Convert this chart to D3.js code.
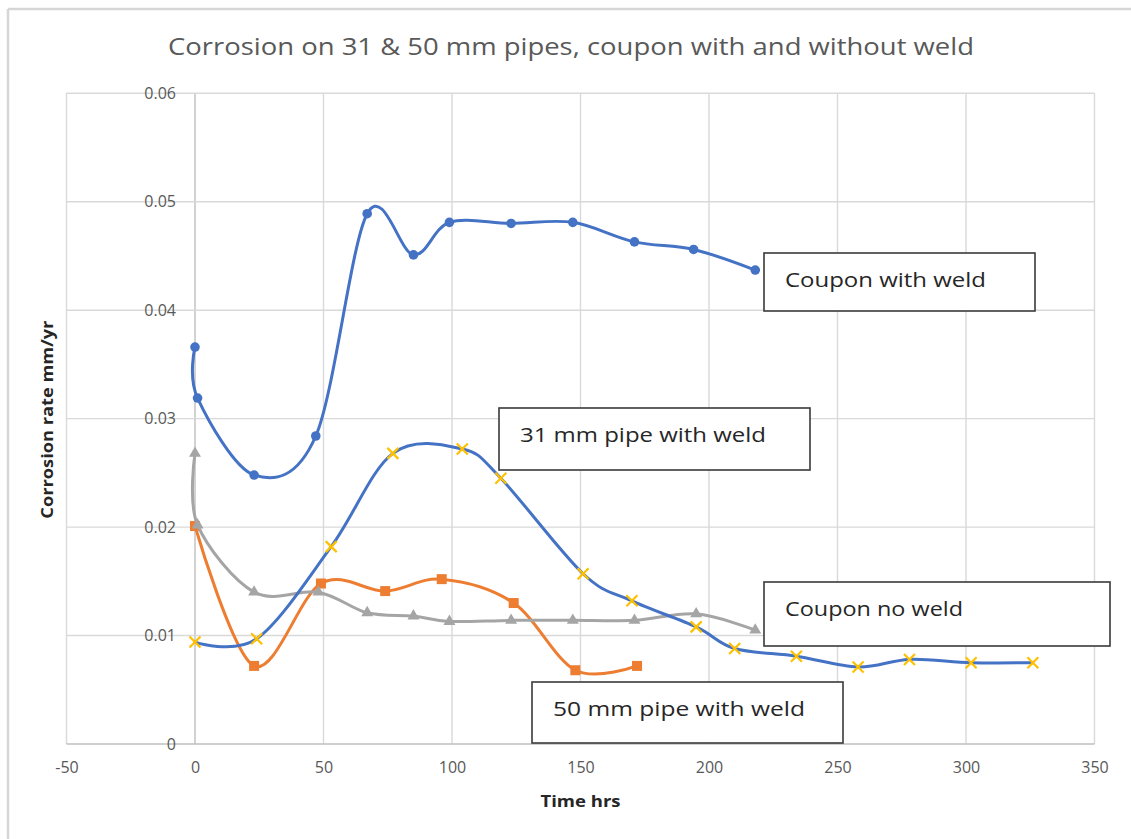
<!DOCTYPE html>
<html>
<head>
<meta charset="utf-8">
<script src="https://cdn.jsdelivr.net/npm/d3@7"></script>
<style>
  html, body { margin: 0; padding: 0; background: #ffffff; }
  svg { display: block; }
  text { font-family: "Open Sans", "Liberation Sans", sans-serif; }
</style>
</head>
<body>
<svg id="chart" width="1131" height="839"></svg>
<script>
// ---- data -------------------------------------------------------------
const xTicks = [-50, 0, 50, 100, 150, 200, 250, 300, 350];
const yTicks = [0, 0.01, 0.02, 0.03, 0.04, 0.05, 0.06];

const couponWeldHrs  = [0, 1, 23, 47, 67, 85, 99, 123, 147, 171, 194, 218];
const couponWeldRate = [0.0366, 0.0319, 0.0248, 0.0284, 0.0489, 0.0451, 0.0481, 0.0480, 0.0481, 0.0463, 0.0456, 0.0437];

const pipe50Hrs  = [0, 23, 49, 74, 96, 124, 148, 172];
const pipe50Rate = [0.0201, 0.0072, 0.0148, 0.0141, 0.0152, 0.0130, 0.0068, 0.0072];

const couponNoWeldHrs  = [0, 1, 23, 48, 67, 85, 99, 123, 147, 171, 195, 218];
const couponNoWeldRate = [0.0268, 0.0202, 0.0140, 0.0140, 0.0121, 0.0118, 0.0113, 0.0114, 0.0114, 0.0114, 0.0120, 0.0105];

const pipe31Hrs  = [0, 24, 53, 77, 104, 119, 151, 170, 195, 210, 234, 258, 278, 302, 326];
const pipe31Rate = [0.0094, 0.0097, 0.0182, 0.0268, 0.0272, 0.0245, 0.0157, 0.0132, 0.0108, 0.0088, 0.0081, 0.0071, 0.0078, 0.0075, 0.0075];

const seriesNames = ["Coupon with weld", "50  mm pipe with weld", "Coupon no weld", "31 mm pipe  with weld"];

// ---- layout -------------------------------------------------------------
const svg = d3.select("#chart");
const plot = { left: 66.5, right: 1094.5, top: 93.3, bottom: 744 };

const x = d3.scaleLinear().domain([-50, 350]).range([plot.left, plot.right]);
const y = d3.scaleLinear().domain([0, 0.06]).range([plot.bottom, plot.top]);

// chart frame
svg.append("rect").attr("x", 0).attr("y", 0).attr("width", 1131).attr("height", 839).attr("fill", "#fff");
svg.append("line").attr("x1", 8).attr("x2", 1131).attr("y1", 9).attr("y2", 9)
  .attr("stroke", "#d6d6d6").attr("stroke-width", 2.5);
svg.append("line").attr("x1", 8).attr("x2", 8).attr("y1", 9).attr("y2", 839)
  .attr("stroke", "#d6d6d6").attr("stroke-width", 2.5);

// title
svg.append("text")
  .attr("x", 571).attr("y", 55)
  .attr("text-anchor", "middle")
  .attr("font-size", 23)
  .attr("fill", "#595959")
  .attr("textLength", 806).attr("lengthAdjust", "spacingAndGlyphs")
  .text("Corrosion on 31 & 50 mm pipes, coupon with and without weld");

// gridlines
const grid = svg.append("g").attr("class", "grid");
grid.selectAll("line.gx").data(xTicks).join("line")
  .attr("class", "gx")
  .attr("x1", d => x(d)).attr("x2", d => x(d))
  .attr("y1", plot.top).attr("y2", plot.bottom)
  .attr("stroke", d => d === 0 ? "#bfbfbf" : "#d9d9d9").attr("stroke-width", 1.4);
grid.selectAll("line.gy").data(yTicks).join("line")
  .attr("class", "gy")
  .attr("x1", plot.left).attr("x2", plot.right)
  .attr("y1", d => y(d)).attr("y2", d => y(d))
  .attr("stroke", d => d === 0 ? "#bfbfbf" : "#d9d9d9").attr("stroke-width", 1.4);

// axes (labels only; lines come from the grid)
const yAxis = svg.append("g")
  .attr("transform", `translate(${x(0)},0)`)
  .call(d3.axisLeft(y).tickValues(yTicks).tickSize(0).tickPadding(19)
    .tickFormat(d => d === 0 ? "0" : d3.format(".2f")(d)));
yAxis.select(".domain").remove();
yAxis.selectAll("text").attr("font-size", 16).attr("fill", "#595959")
  .attr("font-family", "'Open Sans', sans-serif");

const xAxis = svg.append("g")
  .attr("transform", `translate(0,${plot.bottom})`)
  .call(d3.axisBottom(x).tickValues(xTicks).tickSize(0).tickPadding(18)
    .tickFormat(d => String(d)));
xAxis.select(".domain").remove();
xAxis.selectAll("text").attr("font-size", 16).attr("fill", "#595959")
  .attr("font-family", "'Open Sans', sans-serif");

// axis titles
svg.append("text")
  .attr("x", (plot.left + plot.right) / 2).attr("y", 807)
  .attr("text-anchor", "middle").attr("font-size", 16).attr("font-weight", "bold")
  .attr("fill", "#262626")
  .attr("textLength", 80).attr("lengthAdjust", "spacingAndGlyphs")
  .text("Time hrs");
svg.append("text")
  .attr("transform", `translate(53,${(plot.top + plot.bottom) / 2 + 1}) rotate(-90)`)
  .attr("text-anchor", "middle").attr("font-size", 16).attr("font-weight", "bold")
  .attr("fill", "#262626")
  .attr("textLength", 198).attr("lengthAdjust", "spacingAndGlyphs")
  .text("Corrosion rate mm/yr");

// ---- series -------------------------------------------------------------
const zip = (xs, ys) => xs.map((h, i) => ({ h, r: ys[i] }));
const line = d3.line().x(d => x(d.h)).y(d => y(d.r)).curve(d3.curveCardinal.tension(0));

const series = [
  { name: seriesNames[0], pts: zip(couponWeldHrs, couponWeldRate), line: "#4472C4", marker: "circle", mfill: "#4472C4" },
  { name: seriesNames[1], pts: zip(pipe50Hrs, pipe50Rate), line: "#ED7D31", marker: "square", mfill: "#ED7D31" },
  { name: seriesNames[2], pts: zip(couponNoWeldHrs, couponNoWeldRate), line: "#A5A5A5", marker: "triangle", mfill: "#A5A5A5" },
  { name: seriesNames[3], pts: zip(pipe31Hrs, pipe31Rate), line: "#4472C4", marker: "x", mfill: "#FFC000" }
];

series.forEach(s => {
  const g = svg.append("g").attr("class", "series");
  g.append("path").datum(s.pts)
    .attr("d", line).attr("fill", "none")
    .attr("stroke", s.line).attr("stroke-width", 3)
    .attr("stroke-linejoin", "round").attr("stroke-linecap", "round");

  const m = g.selectAll("g.m").data(s.pts).join("g")
    .attr("class", "m")
    .attr("transform", d => `translate(${x(d.h)},${y(d.r)})`);

  if (s.marker === "circle") {
    m.append("circle").attr("r", 4.8).attr("fill", s.mfill);
  } else if (s.marker === "square") {
    m.append("rect").attr("x", -5).attr("y", -5).attr("width", 10).attr("height", 10).attr("fill", s.mfill);
  } else if (s.marker === "triangle") {
    m.append("path").attr("d", d3.symbol(d3.symbolTriangle, 62)).attr("fill", s.mfill);
  } else {
    m.append("path").attr("d", "M-5.5,-5.5L5.5,5.5M-5.5,5.5L5.5,-5.5")
      .attr("stroke", s.mfill).attr("stroke-width", 2.2).attr("fill", "none");
  }
});

// ---- callout labels -----------------------------------------------------
const callouts = [
  { text: seriesNames[0], x: 764, y: 253, w: 271, h: 58, tw: 201 },
  { text: seriesNames[3], x: 499, y: 408, w: 311, h: 62, tw: 246 },
  { text: seriesNames[2], x: 764, y: 582, w: 346, h: 64, tw: 178 },
  { text: seriesNames[1], x: 532, y: 682, w: 311, h: 61, tw: 252 }
];
const cg = svg.append("g").attr("class", "callouts");
callouts.forEach(c => {
  cg.append("rect")
    .attr("x", c.x).attr("y", c.y).attr("width", c.w).attr("height", c.h)
    .attr("fill", "#ffffff").attr("stroke", "#3a3a3a").attr("stroke-width", 1.6);
  cg.append("text")
    .attr("x", c.x + 21).attr("y", c.y + 27)
    .attr("dy", "0.35em")
    .attr("font-size", 20.5).attr("fill", "#262626")
    .attr("textLength", c.tw).attr("lengthAdjust", "spacingAndGlyphs")
    .text(c.text);
});
</script>
</body>
</html>
